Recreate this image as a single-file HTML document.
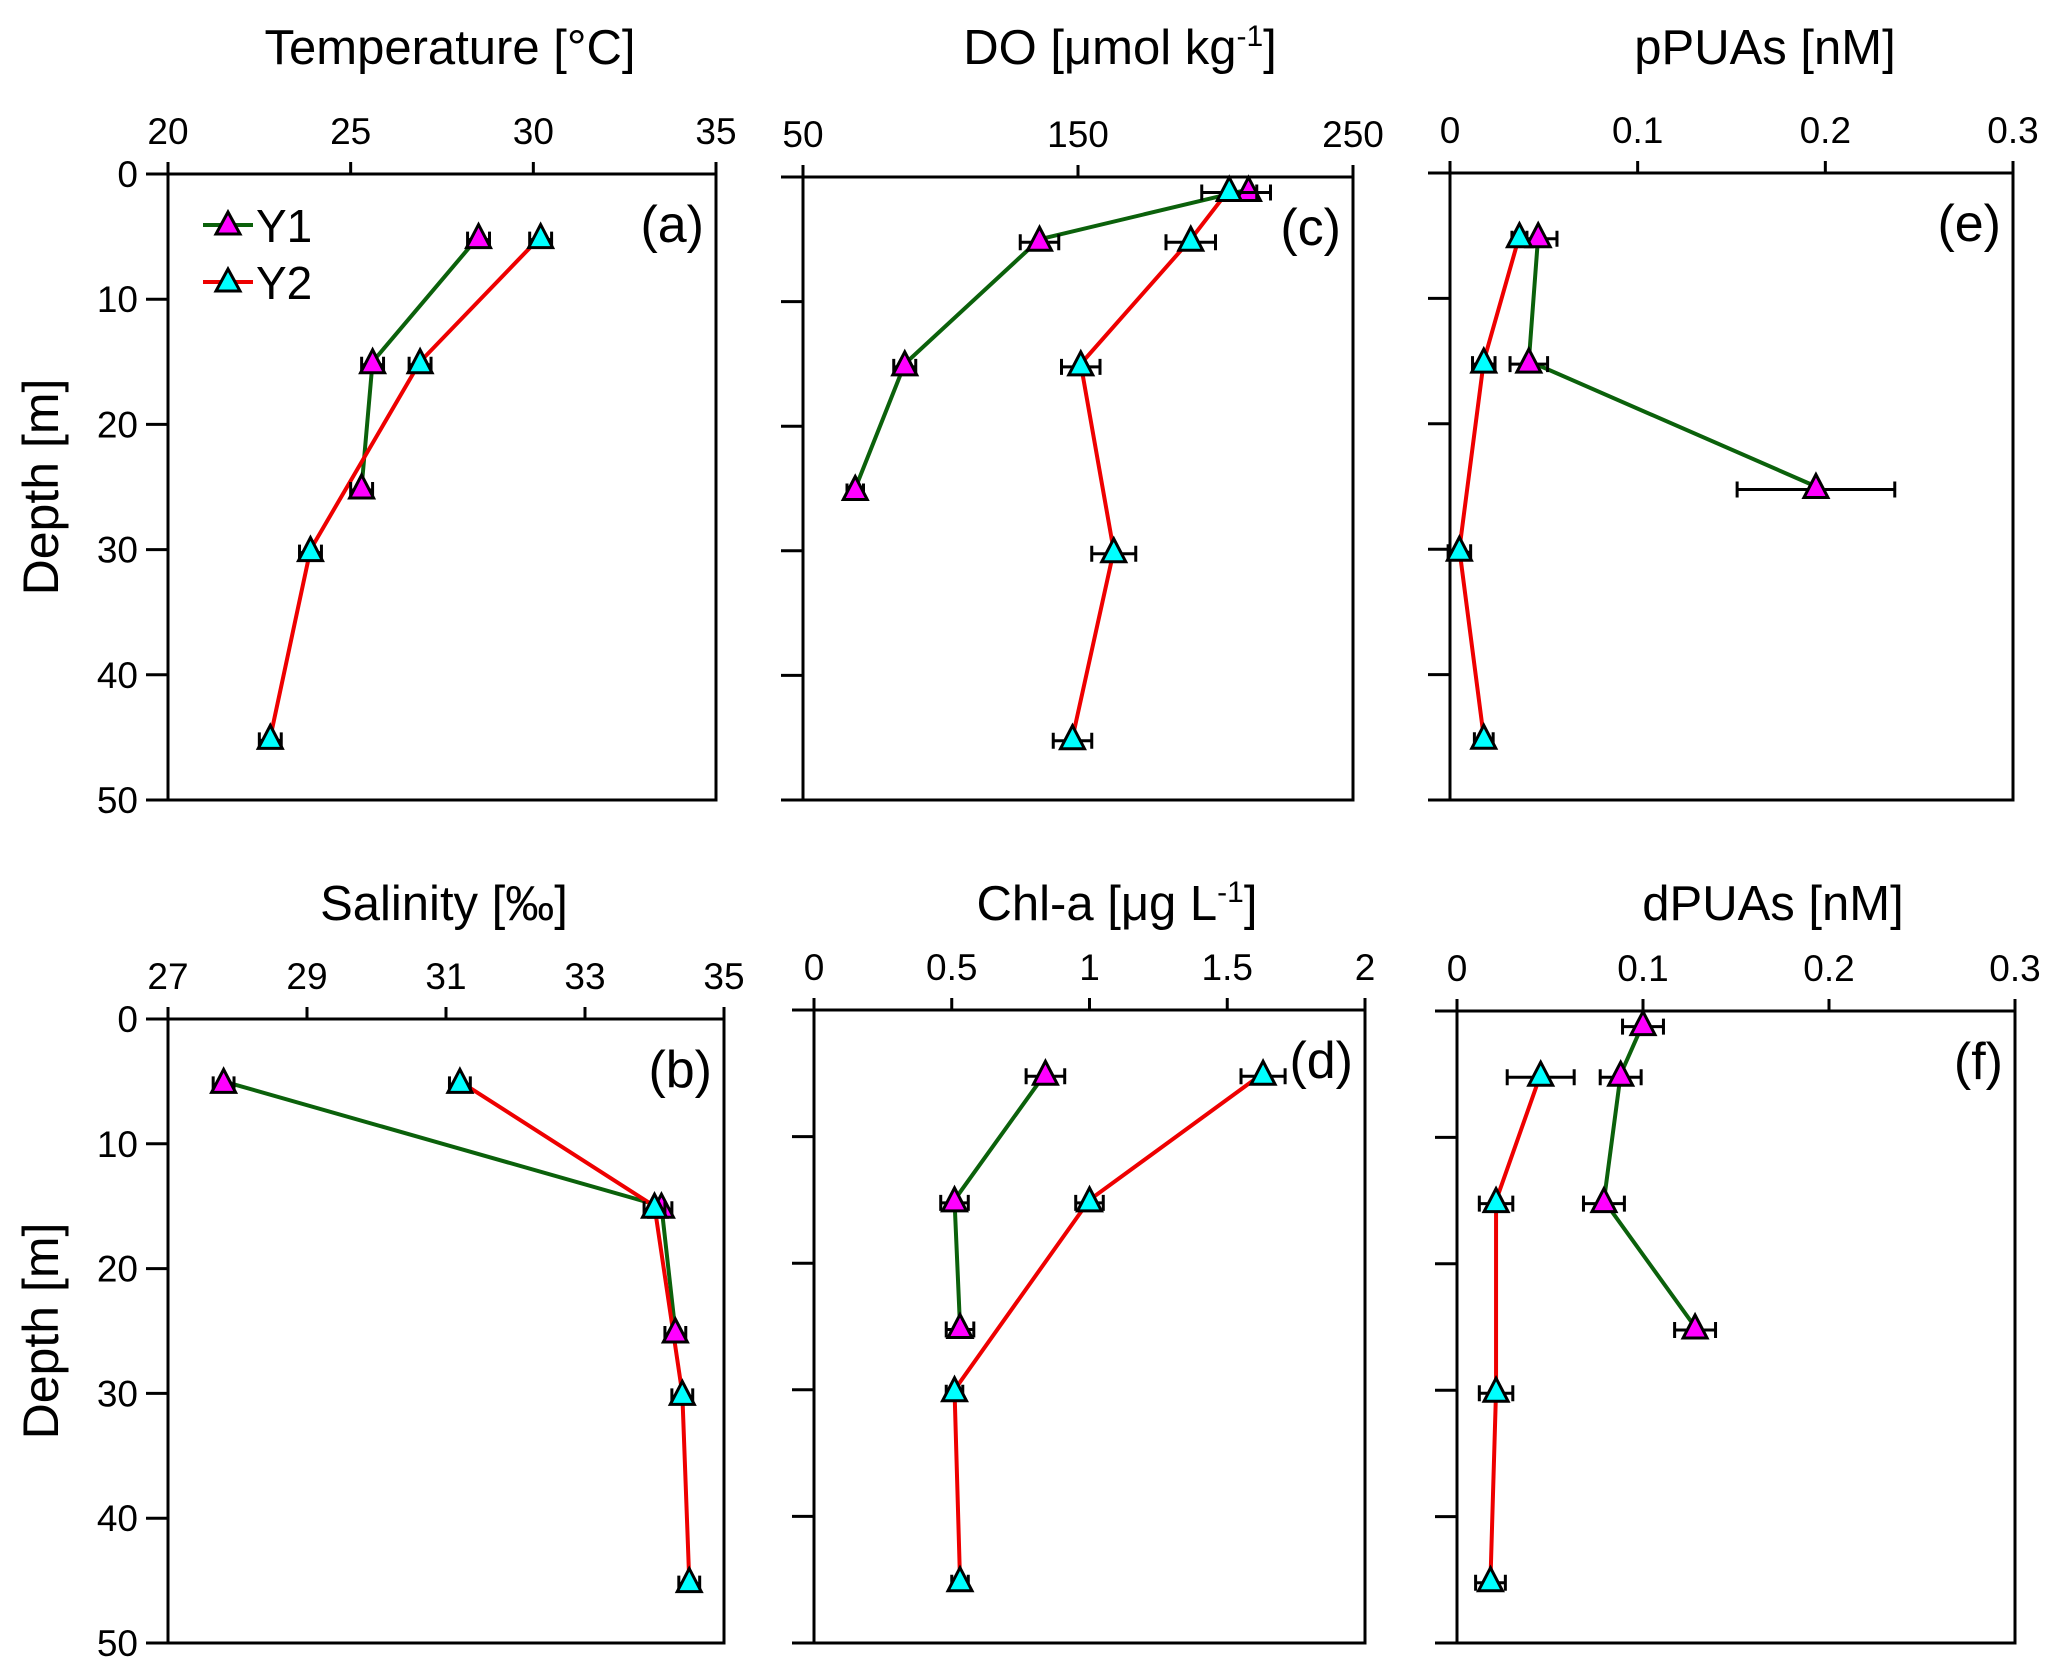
<!DOCTYPE html>
<html><head><meta charset="utf-8"><style>
html,body{margin:0;padding:0;background:#fff}
svg{display:block}
text{font-family:"Liberation Sans",Arial,sans-serif;fill:#000}
</style></head><body>
<svg id="fig" width="2067" height="1667" viewBox="0 0 2067 1667" xmlns="http://www.w3.org/2000/svg"></svg>
<script>
// Depths
const depthsA1=[5,15,25], depthsA2=[5,15,30,45];
const depthsT1=[1,5,15,25], depthsT2=[1,5,15,30,45];
// Panel (a) Temperature
const tempY1=[28.5,25.6,25.3], tempY2=[30.2,26.9,23.9,22.8];
const tempErr1=[0.3,0.3,0.3], tempErr2=[0.3,0.3,0.3,0.3];
// Panel (b) Salinity
const salY1=[27.8,34.1,34.3], salY2=[31.2,34.0,34.4,34.5];
const salErr1=[0.15,0.15,0.15], salErr2=[0.15,0.15,0.15,0.15];
// Panel (c) DO
const doY1=[212,136,87,69], doY2=[205,191,151,163,148];
const doErr1=[8,7,4,3], doErr2=[10,9,7,8,7];
// Panel (d) Chl-a
const chlY1=[0.84,0.51,0.53], chlY2=[1.63,1.0,0.51,0.53];
const chlErr1=[0.07,0.05,0.05], chlErr2=[0.08,0.05,0.03,0.03];
// Panel (e) pPUAs
const ppY1=[0.047,0.042,0.195], ppY2=[0.037,0.018,0.005,0.018];
const ppErr1=[0.01,0.01,0.042], ppErr2=[0.004,0.006,0.006,0.005];
// Panel (f) dPUAs
const dpY1=[0.1,0.088,0.079,0.128], dpY2=[0.045,0.021,0.021,0.018];
const dpDepth1=[1,5,15,25], dpDepth2=[5,15,30,45];
const dpErr1=[0.011,0.011,0.011,0.011], dpErr2=[0.018,0.009,0.009,0.008];
// Tick labels
const tempTicks=[20,25,30,35], salTicks=[27,29,31,33,35], doTicks=[50,150,250];
const chlTicks=[0,0.5,1,1.5,2], puaTicks=[0,0.1,0.2,0.3], depthTicks=[0,10,20,30,40,50];

const NS="http://www.w3.org/2000/svg";
const svg=document.getElementById('fig');
function mk(tag,attrs,parent){const e=document.createElementNS(NS,tag);for(const k in attrs)e.setAttribute(k,attrs[k]);(parent||svg).appendChild(e);return e;}

function panel(p){
  const g=mk('g',{});
  
  
  const sx=v=>p.x0+(v-p.min)/(p.max-p.min)*(p.x1-p.x0);
  const sy=d=>p.y0+d/50*(p.y1-p.y0);
  const fr=mk('rect',{x:p.x0,y:p.y0,width:p.x1-p.x0,height:p.y1-p.y0,fill:'none',stroke:'#000','stroke-width':3},g);
  
  
  p.ticks.forEach(t=>{
    const x=sx(t);
    mk('line',{x1:x,x2:x,y1:p.y0,y2:p.y0-12,stroke:'#000','stroke-width':3},g);
    const tx=mk('text',{x:x,y:p.y0-30,'font-size':37,'text-anchor':'middle'},g);
    tx.textContent=String(t);
    
    
  });
  depthTicks.forEach(d=>{
    const y=sy(d);
    mk('line',{x1:p.x0-22,x2:p.x0,y1:y,y2:y,stroke:'#000','stroke-width':3},g);
    if(p.ylabels){
      const ty=mk('text',{x:p.x0-30,y:y+13,'font-size':37,'text-anchor':'end'},g);
      ty.textContent=String(d);
      
      
    }
  });
  if(p.ylabels){
    const yt=mk('text',{x:0,y:0,'font-size':50,'text-anchor':'middle',transform:`translate(58,${(p.y0+p.y1)/2}) rotate(-90)`},g);
    yt.textContent='Depth [m]';
    
    
  }
  const tt=mk('text',{x:p.tx,y:p.ty,'font-size':49,'text-anchor':'middle'},g);
  tt.innerHTML=p.title;
  
  
  const pl=mk('text',{x:p.x1-12,y:p.y0+68,'font-size':52,'text-anchor':'end'},g);
  pl.textContent='('+p.id+')';
  
  
  const series=[{v:p.v1,d:p.d1,e:p.e1,line:'#0b610b',fill:'#ff00ff',name:'y1'},{v:p.v2,d:p.d2,e:p.e2,line:'#ee0000',fill:'#00ffff',name:'y2'}];
  series.forEach(s=>{
    const pts=s.v.map((v,i)=>[sx(v),sy(s.d[i])]);
    const pl2=mk('polyline',{points:pts.map(q=>q.join(',')).join(' '),fill:'none',stroke:s.line,'stroke-width':4},g);
    
    
  });
  series.forEach(s=>{
    s.v.forEach((v,i)=>{
      const x=sx(v),y=sy(s.d[i]);
      const xl=sx(v-s.e[i]),xr=sx(v+s.e[i]);
      const eb=mk('path',{d:`M${xl},${y+3}H${xr}M${xl},${y-5}V${y+11}M${xr},${y-5}V${y+11}`,stroke:'#000','stroke-width':3,fill:'none'},g);
      
      
      const tr=mk('polygon',{points:`${x},${y-12} ${x-12},${y+11} ${x+12},${y+11}`,fill:s.fill,stroke:'#000','stroke-width':3},g);
      
      
    });
  });
}

panel({id:'a',x0:168,x1:716,y0:174,y1:800,min:20,max:35,ticks:tempTicks,ylabels:true,title:'Temperature [°C]',tx:450,ty:64,v1:tempY1,d1:depthsA1,e1:tempErr1,v2:tempY2,d2:depthsA2,e2:tempErr2});
panel({id:'c',x0:803,x1:1353,y0:177,y1:800,min:50,max:250,ticks:doTicks,ylabels:false,title:'DO [μmol kg<tspan font-size="30" dy="-18">-1</tspan><tspan dy="18">]</tspan>',tx:1120,ty:64,v1:doY1,d1:depthsT1,e1:doErr1,v2:doY2,d2:depthsT2,e2:doErr2});
panel({id:'e',x0:1450,x1:2013,y0:173,y1:800,min:0,max:0.3,ticks:puaTicks,ylabels:false,title:'pPUAs [nM]',tx:1765,ty:64,v1:ppY1,d1:depthsA1,e1:ppErr1,v2:ppY2,d2:depthsA2,e2:ppErr2});
panel({id:'b',x0:168,x1:724,y0:1019,y1:1643,min:27,max:35,ticks:salTicks,ylabels:true,title:'Salinity [‰]',tx:444,ty:920,v1:salY1,d1:depthsA1,e1:salErr1,v2:salY2,d2:depthsA2,e2:salErr2});
panel({id:'d',x0:814,x1:1365,y0:1010,y1:1643,min:0,max:2,ticks:chlTicks,ylabels:false,title:'Chl-a [μg L<tspan font-size="30" dy="-18">-1</tspan><tspan dy="18">]</tspan>',tx:1117,ty:920,v1:chlY1,d1:depthsA1,e1:chlErr1,v2:chlY2,d2:depthsA2,e2:chlErr2});
panel({id:'f',x0:1457,x1:2015,y0:1011,y1:1643,min:0,max:0.3,ticks:puaTicks,ylabels:false,title:'dPUAs [nM]',tx:1773,ty:920,v1:dpY1,d1:dpDepth1,e1:dpErr1,v2:dpY2,d2:dpDepth2,e2:dpErr2});

const lg=mk('g',{});


[['Y1','#0b610b','#ff00ff',225],['Y2','#ee0000','#00ffff',282]].forEach(r=>{
  const ln=mk('line',{x1:203,x2:253,y1:r[3],y2:r[3],stroke:r[1],'stroke-width':4},lg);
  
  
  const tr=mk('polygon',{points:`228,${r[3]-13} 216,${r[3]+9} 240,${r[3]+9}`,fill:r[2],stroke:'#000','stroke-width':3},lg);
  
  
  const t=mk('text',{x:256,y:r[3]+17,'font-size':46},lg);
  t.textContent=r[0];
  
  
});
</script>
</body></html>
